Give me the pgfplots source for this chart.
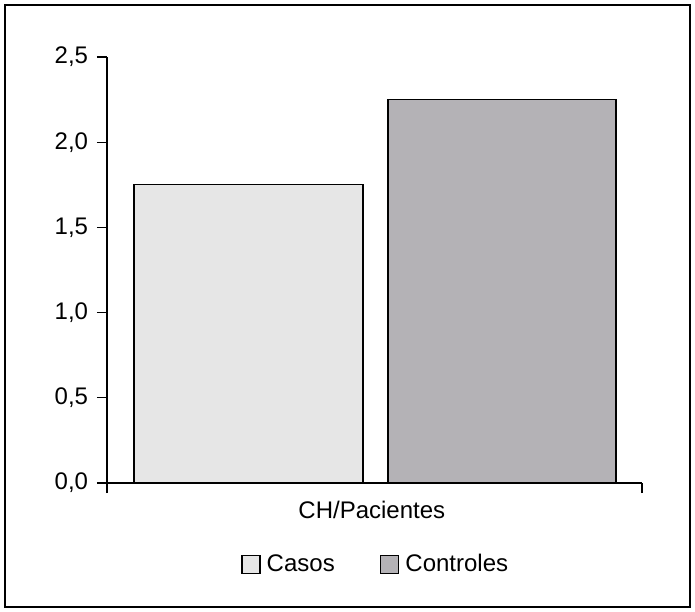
\documentclass[border=0pt]{standalone}
\usepackage{fontspec}
\setmainfont{Liberation Sans}
\usepackage{pgfplots}
\pgfplotsset{compat=1.18}
\definecolor{casos}{HTML}{E6E6E6}
\definecolor{controles}{HTML}{B4B2B6}
\begin{document}
\fontsize{18}{21}\selectfont
\begin{tikzpicture}
\begin{axis}[
  name=ax,
  scale only axis,
  width=401.25pt, height=319.5pt,
  xmin=0, xmax=535, ymin=0, ymax=2.5,
  axis lines=left,
  axis line style={-, line width=1pt},
  every tick/.style={black, line width=1pt},
  tick align=outside,
  major tick length=7.5pt,
  xtick={0,535}, xticklabels={},
  ytick={0,0.5,1,1.5,2,2.5},
  /pgf/number format/use comma,
  /pgf/number format/fixed,
  /pgf/number format/fixed zerofill,
  /pgf/number format/precision=1,
  /pgf/number format/assume math mode=true,
  yticklabel style={xshift=-0.5pt},
  xlabel={CH/Pacientes},
  xlabel style={at={(axis description cs:0.495,-0.063)}, anchor=center},
  legend columns=2,
  legend style={at={(axis description cs:0.503,-0.192)}, anchor=center, draw=none, fill=none,
    /tikz/every even column/.append style={column sep=32pt}},
  legend image code/.code={\draw[#1,draw=black,line width=1pt] (0pt,-6.75pt) rectangle (13.5pt,6.75pt); \path (16pt,0pt);},
  clip=false,
]
\addplot[ybar, bar shift=0pt, bar width=229, fill=casos, draw=black, line width=1pt] coordinates {(141.5,1.75)};
\addlegendentry{Casos}
\addplot[ybar, bar shift=0pt, bar width=228, fill=controles, draw=black, line width=1pt] coordinates {(395,2.25)};
\addlegendentry{Controles}
\end{axis}
\draw[line width=1pt] ([shift={(-76.5pt,-93pt)}]ax.south west) rectangle ([shift={(36pt,39pt)}]ax.north east);
\path ([shift={(-80.25pt,-96pt)}]ax.south west) rectangle ([shift={(39.75pt,42.75pt)}]ax.north east);
\end{tikzpicture}
\end{document}
